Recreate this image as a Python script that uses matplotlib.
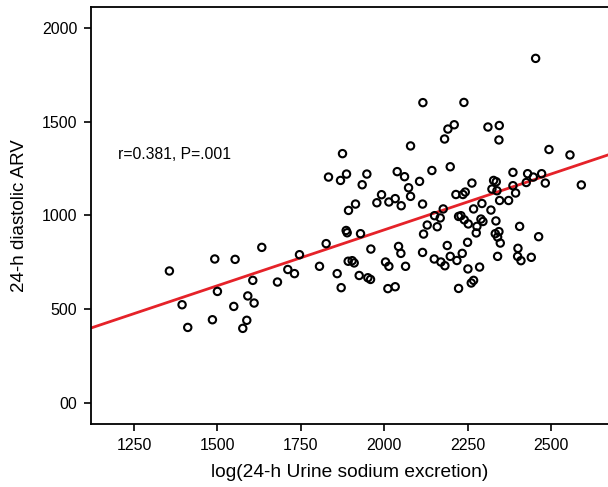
import numpy as np
import matplotlib.pyplot as plt

plt.rcParams['font.family'] = ['Liberation Sans', 'DejaVu Sans']

# log(24-h urine sodium excretion) vs 24-h diastolic ARV
sodium = [1356, 1492, 1553, 1633, 1746, 1826, 1711, 1731, 1806, 1859, 1871, 1606, 1680, 1500,
          1394, 1591, 1610, 1549, 1485, 1588, 1411, 1576,
          2116, 2210, 2191, 2181, 1875, 2079, 1833, 1887, 1869, 1948, 1934, 2039, 2061, 2106,
          2143, 2198, 2073, 1992, 2079, 2215, 1914, 1893, 1978, 2014, 2033, 2051, 2115, 2177,
          2151, 2168, 2223,
          1886, 1889, 1929, 1960, 2043, 2050, 1892, 1904, 1910, 1925, 1951, 1959, 2004, 2014,
          2064, 2011, 2033, 2118, 2129, 2159, 2115, 2189, 2150, 2170, 2182, 2198, 2218, 2223,
          2454, 2239, 2311, 2345, 2344, 2494, 2557,
          2263, 2328, 2336, 2386, 2430, 2447, 2472, 2483, 2426, 2386, 2394, 2591, 2323, 2338,
          2236, 2243, 2293, 2268, 2346, 2373, 2320, 2230, 2240, 2252, 2278, 2290, 2296, 2335,
          2276, 2333, 2344, 2340, 2348, 2406, 2463, 2250, 2401, 2234, 2340, 2400, 2410, 2441,
          2251, 2286, 2268, 2261]
arv = [704, 768, 766, 830, 791, 850, 712, 690, 729, 690, 615, 654, 645, 595,
       524, 571, 533, 515, 444, 441, 403, 398,
       1602, 1484, 1461, 1408, 1330, 1371, 1205, 1221, 1187, 1221, 1164, 1234, 1207, 1182,
       1240, 1260, 1148, 1111, 1102, 1112, 1061, 1027, 1068, 1072, 1090, 1052, 1061, 1035,
       999, 987, 995,
       920, 908, 903, 821, 835, 798, 756, 759, 747, 680, 668, 659, 752, 729,
       729, 610, 620, 901, 949, 940, 803, 840, 768, 752, 732, 782, 760, 611,
       1838, 1603, 1472, 1480, 1403, 1352, 1323,
       1173, 1187, 1180, 1230, 1223, 1205, 1223, 1173, 1176, 1159, 1120, 1163, 1141, 1132,
       1112, 1125, 1064, 1035, 1080, 1080, 1029, 999, 977, 955, 942, 981, 968, 971,
       907, 903, 914, 885, 853, 942, 887, 857, 825, 798, 782, 782, 759, 777,
       715, 725, 654, 640]

# fitted line as drawn in the figure
fit_intercept = -267.6
fit_slope = 0.5955

x_ticks = [1250, 1500, 1750, 2000, 2250, 2500]
y_ticks = [0, 500, 1000, 1500, 2000]
y_tick_labels = ['00', '500', '1000', '1500', '2000']

fig = plt.figure(figsize=(6.08, 4.87), dpi=100)
ax = fig.add_axes([0.1497, 0.1294, 0.8503, 0.8562])

xlim = (1121, 2671)
ax.scatter(sodium, arv, s=28, facecolors='none', edgecolors='black', linewidths=1.5, zorder=3)
xs = np.array(xlim)
ax.plot(xs, fit_intercept + fit_slope * xs, color='#e52229', lw=2, zorder=2)

ax.text(1202, 1324, 'r=0.381, P=.001', fontsize=11.3, ha='left', va='center')

ax.set_xlim(xlim)
ax.set_ylim(-112, 2112)
ax.set_xticks(x_ticks)
ax.set_yticks(y_ticks)
ax.set_yticklabels(y_tick_labels)
ax.tick_params(direction='out', length=5, width=1.2, labelsize=11.5, pad=5)
for side in ['left', 'bottom', 'top']:
    ax.spines[side].set_linewidth(1.3)
ax.spines['right'].set_visible(False)

ax.set_xlabel('log(24-h Urine sodium excretion)', fontsize=13.8, labelpad=8)
ax.set_ylabel('24-h diastolic ARV', fontsize=13.5, labelpad=10)

plt.savefig('out.png', dpi=100)
plt.close()
